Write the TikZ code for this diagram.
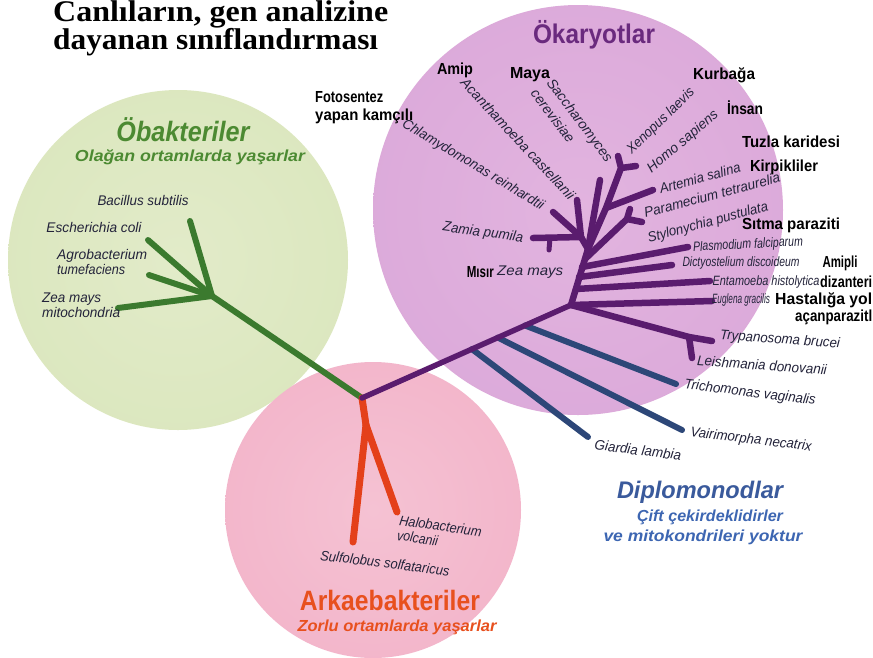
\documentclass[tikz,border=0pt]{standalone}
\usepackage{fontspec}
\usepackage{graphicx}
\usetikzlibrary{calc}
\newfontfamily\sansf{Liberation Sans}
\newfontfamily\seriff{Liberation Serif}
\newcommand\fw[2]{\resizebox{#1pt}{\height}{#2}}
\definecolor{gIn}{HTML}{E2EBC9}
\definecolor{gOut}{HTML}{CFE0AC}
\definecolor{pIn}{HTML}{E2B4DF}
\definecolor{pOut}{HTML}{D49DD4}
\definecolor{kIn}{HTML}{F5C2D3}
\definecolor{kOut}{HTML}{EFA6C0}
\definecolor{gLine}{HTML}{3B7A2E}
\definecolor{pLine}{HTML}{5A1C6E}
\definecolor{rLine}{HTML}{E4401A}
\definecolor{bLine}{HTML}{2D4778}
\definecolor{gHead}{HTML}{4C8A32}
\definecolor{pHead}{HTML}{6A2A7E}
\definecolor{rHead}{HTML}{E8501E}
\definecolor{bHead}{HTML}{3A5A9C}
\definecolor{bSub}{HTML}{3D66B2}
\definecolor{txt}{HTML}{23233A}
\pgfdeclareradialshading{greenball}{\pgfpoint{0bp}{0bp}}{color(0bp)=(gIn); color(30bp)=(gIn!60!gOut); color(46bp)=(gOut); color(50bp)=(gOut!40!white)}
\pgfdeclareradialshading{purpleball}{\pgfpoint{0bp}{0bp}}{color(0bp)=(pIn); color(30bp)=(pIn!50!pOut); color(46bp)=(pOut); color(50bp)=(pOut!40!white)}
\pgfdeclareradialshading{pinkball}{\pgfpoint{0bp}{0bp}}{color(0bp)=(kIn); color(30bp)=(kIn!50!kOut); color(46bp)=(kOut); color(50bp)=(kOut!40!white)}
\tikzset{
  sp/.style={font=\sansf\itshape\fontsize{14}{15}\selectfont, text=txt, inner sep=0pt},
  sps/.style={font=\sansf\itshape\fontsize{13.5}{14}\selectfont, text=txt, inner sep=0pt},
  bl/.style={font=\sansf\bfseries\fontsize{16}{18}\selectfont, text=black, inner sep=0pt},
  ttl/.style={font=\seriff\bfseries\fontsize{30}{30}\selectfont, text=black, inner sep=0pt},
  head/.style={font=\sansf\bfseries\fontsize{27}{29}\selectfont, inner sep=0pt},
  sub/.style={font=\sansf\bfseries\itshape\fontsize{16}{18}\selectfont, inner sep=0pt},
  gbr/.style={draw=gLine, line width=6pt, line cap=round},
  pbr/.style={draw=pLine, line width=6.5pt, line cap=round},
  rbr/.style={draw=rLine, line width=7pt, line cap=round},
  bbr/.style={draw=bLine, line width=6pt, line cap=round}
}
\begin{document}
\begin{tikzpicture}[x=1pt,y=-1pt]
\useasboundingbox (0,0) rectangle (873,657);
\fill[white] (0,0) rectangle (873,657);
% circles
\shade[shading=greenball] (178,260) circle (170);
\shade[shading=purpleball] (578,210) circle (205);
\shade[shading=pinkball] (373,510) circle (148);
% tree coordinates
\coordinate (R) at (362,398);
\coordinate (G1) at (212,296);
\coordinate (gB) at (190,221);
\coordinate (gE) at (148,240);
\coordinate (gA) at (149,275);
\coordinate (gZ) at (118,308);
\coordinate (r1) at (366,425);
\coordinate (rS) at (353,542);
\coordinate (rH) at (397,512);
\coordinate (P1) at (571,305);
\coordinate (b1) at ($(R)!0.78!(P1)$);
\coordinate (b2) at ($(R)!0.65!(P1)$);
\coordinate (b3) at ($(R)!0.526!(P1)$);
\coordinate (tTri) at (676,384);
\coordinate (tVai) at (682,430);
\coordinate (tGia) at (588,437);
\coordinate (T1) at (689,337);
\coordinate (tTry) at (712,341);
\coordinate (tLei) at (692,358);
\coordinate (tEug) at (712,301);
\coordinate (s1) at (576,289);
\coordinate (s2) at (579,277);
\coordinate (s3) at (582,267);
\coordinate (s4) at (585,259);
\coordinate (Q) at (588,249);
\coordinate (tEnt) at (710,281);
\coordinate (tDic) at (672,265);
\coordinate (tPla) at (688,247);
\coordinate (Sy) at (627,219);
\coordinate (tSy1) at (630,209);
\coordinate (tSy2) at (642,222);
\coordinate (A0) at (581,237);
\coordinate (tAca) at (577,200);
\coordinate (tChl) at (553,212);
\coordinate (tZam) at (533,238);
\coordinate (zs1) at (550,238);
\coordinate (zs2) at (549,250);
\coordinate (tSac) at (600,180);
\coordinate (V1) at (606,208);
\coordinate (V2) at (621,168);
\coordinate (tXen) at (618,156);
\coordinate (tHom) at (636,166);
\coordinate (tArt) at (653,190);
% green
\draw[gbr] (R) -- (G1);
\draw[gbr] (G1) -- (gB);
\draw[gbr] (G1) -- (gE);
\draw[gbr] (G1) -- (gA);
\draw[gbr] (G1) -- (gZ);
% red
\draw[rbr] (R) -- (r1);
\draw[rbr] (r1) -- (rS);
\draw[rbr] (r1) -- (rH);
% blue
\draw[bbr] (b1) -- (tTri);
\draw[bbr] (b2) -- (tVai);
\draw[bbr] (b3) -- (tGia);
% purple
\draw[pbr, line width=5.5pt] (R) -- (P1);
\draw[pbr] (P1) -- (T1) -- (tTry);
\draw[pbr] (T1) -- (tLei);
\draw[pbr] (P1) -- (tEug);
\draw[pbr] (P1) -- (Q);
\draw[pbr] (s1) -- (tEnt);
\draw[pbr] (s2) -- (tDic);
\draw[pbr] (s3) -- (tPla);
\draw[pbr] (s4) -- (Sy) -- (tSy1);
\draw[pbr] (Sy) -- (tSy2);
\draw[pbr] (Q) -- (A0);
\draw[pbr] (A0) -- (tAca);
\draw[pbr] (A0) -- (tChl);
\draw[pbr] (A0) -- (tZam);
\draw[pbr, line width=5pt] (zs1) -- (zs2);
\draw[pbr] (Q) -- (tSac);
\draw[pbr] (Q) -- (V1) -- (V2) -- (tXen);
\draw[pbr] (V2) -- (tHom);
\draw[pbr] (V1) -- (tArt);
% title
\node[ttl, anchor=base west] (t1) at (53,21) {\fw{335}{Canlıların, gen analizine}};
\node[ttl, anchor=base west] (t2) at (53,49) {\fw{325}{dayanan sınıflandırması}};
% green labels
\node[head, font=\sansf\bfseries\itshape\fontsize{28}{30}\selectfont, text=gHead] (hOb) at (183,130) {\fw{133}{Öbakteriler}};
\node[sub, text=gHead] (sOb) at (190,157) {\fw{230}{Olağan ortamlarda yaşarlar}};
\node[sp] (lBac) at (143,200) {\fw{91}{Bacillus subtilis}};
\node[sp] (lEco) at (94,227) {\fw{95}{Escherichia coli}};
\node[sp, anchor=north west, align=left] (lAgr) at (57,249) {\fw{90}{Agrobacterium}\\\fw{68}{tumefaciens}};
\node[sp, anchor=north west, align=left] (lZea) at (42,293) {\fw{59}{Zea mays}\\\fw{78}{mitochondria}};
% pink labels
\node[sp, rotate=-8, anchor=north west, align=left] (lHal) at (400,515) {\fw{83}{Halobacterium}\\\fw{41}{volcanii}};
\node[sp, rotate=-7] (lSul) at (385,563) {\fw{130}{Sulfolobus solfataricus}};
\node[head, font=\sansf\bfseries\fontsize{28}{30}\selectfont, text=rHead] (hAr) at (390,600) {\fw{180}{Arkaebakteriler}};
\node[sub, text=rHead] (sAr) at (397,627) {\fw{199}{Zorlu ortamlarda yaşarlar}};
% purple labels
\node[head, text=pHead] (hOk) at (594,35) {\fw{122}{Ökaryotlar}};
\node[bl] (lAmip) at (455,70) {\fw{36}{Amip}};
\node[bl] (lMaya) at (530,75) {\fw{40}{Maya}};
\node[bl, anchor=north west, align=left] (lFot) at (315,91) {\fw{68}{Fotosentez}\\\fw{98}{yapan kamçılı}};
\node[sp, rotate=-47] (lAca) at (518,139) {\fw{160}{Acanthamoeba castellanii}};
\node[sp, rotate=-53] (lSac) at (579,121) {\fw{100}{Saccharomyces}};
\node[sp, rotate=-53] (lCer) at (553,116) {\fw{63}{cerevisiae}};
\node[sp, rotate=-31] (lChl) at (473,165) {\fw{163}{Chlamydomonas reinhardtii}};
\node[sp, rotate=-8] (lZam) at (483,233) {\fw{81}{Zamia pumila}};
\node[bl, anchor=east] (lMis) at (494,272) {\fw{27}{Mısır}};
\node[sp, anchor=west] (lZm) at (497,272) {\fw{66}{Zea mays}};
\node[sp, rotate=44] (lXen) at (661,121) {\fw{88}{Xenopus laevis}};
\node[sp, rotate=40] (lHom) at (683,142) {\fw{88}{Homo sapiens}};
\node[bl] (lKur) at (724,75) {\fw{62}{Kurbağa}};
\node[bl] (lIns) at (745,108) {\fw{36}{İnsan}};
\node[bl] (lTuz) at (791,142) {\fw{98}{Tuzla karidesi}};
\node[sp, rotate=15] (lArt) at (700,178) {\fw{83}{Artemia salina}};
\node[bl] (lKir) at (784,167) {\fw{68}{Kirpikliler}};
\node[sp, rotate=15] (lPar) at (712,195) {\fw{140}{Paramecium tetraurelia}};
\node[sp, rotate=15] (lSty) at (708,223) {\fw{124}{Stylonychia pustulata}};
\node[bl] (lSit) at (791,225) {\fw{98}{Sıtma paraziti}};
\node[sps, rotate=3] (lPla) at (748,245) {\fw{110}{Plasmodium falciparum}};
\node[sps] (lDic) at (741,263) {\fw{117}{Dictyostelium discoideum}};
\node[bl] (lAmp) at (840,263) {\fw{35}{Amipli}};
\node[sps] (lEnt) at (766,282) {\fw{107}{Entamoeba histolytica}};
\node[bl, anchor=west] (lDiz) at (820,282) {\fw{52}{dizanteri}};
\node[sps] (lEug) at (741,300) {\fw{58}{Euglena gracilis}};
\node[bl, anchor=west] (lHas) at (775,300) {\fw{97}{Hastalığa yol}};
\node[bl, anchor=west] (lAcn) at (795,317) {\fw{77}{açanparazitl}};
\node[sp, rotate=-4] (lTry) at (780,340) {\fw{120}{Trypanosoma brucei}};
\node[sp, rotate=-4] (lLei) at (762,365) {\fw{130}{Leishmania donovanii}};
\node[sp, rotate=-7] (lTri) at (750,393) {\fw{132}{Trichomonas vaginalis}};
\node[sp, rotate=-7] (lVai) at (751,440) {\fw{122}{Vairimorpha necatrix}};
\node[sp, rotate=-7] (lGia) at (638,450) {\fw{87}{Giardia lambia}};
% blue labels
\node[head, font=\sansf\bfseries\itshape\fontsize{24}{26}\selectfont, text=bHead] (hDi) at (700,492) {\fw{166}{Diplomonodlar}};
\node[sub, text=bSub] (sDi1) at (710,517) {\fw{146}{Çift çekirdeklidirler}};
\node[sub, text=bSub] (sDi2) at (703,537) {\fw{199}{ve mitokondrileri yoktur}};
\end{tikzpicture}
\end{document}
